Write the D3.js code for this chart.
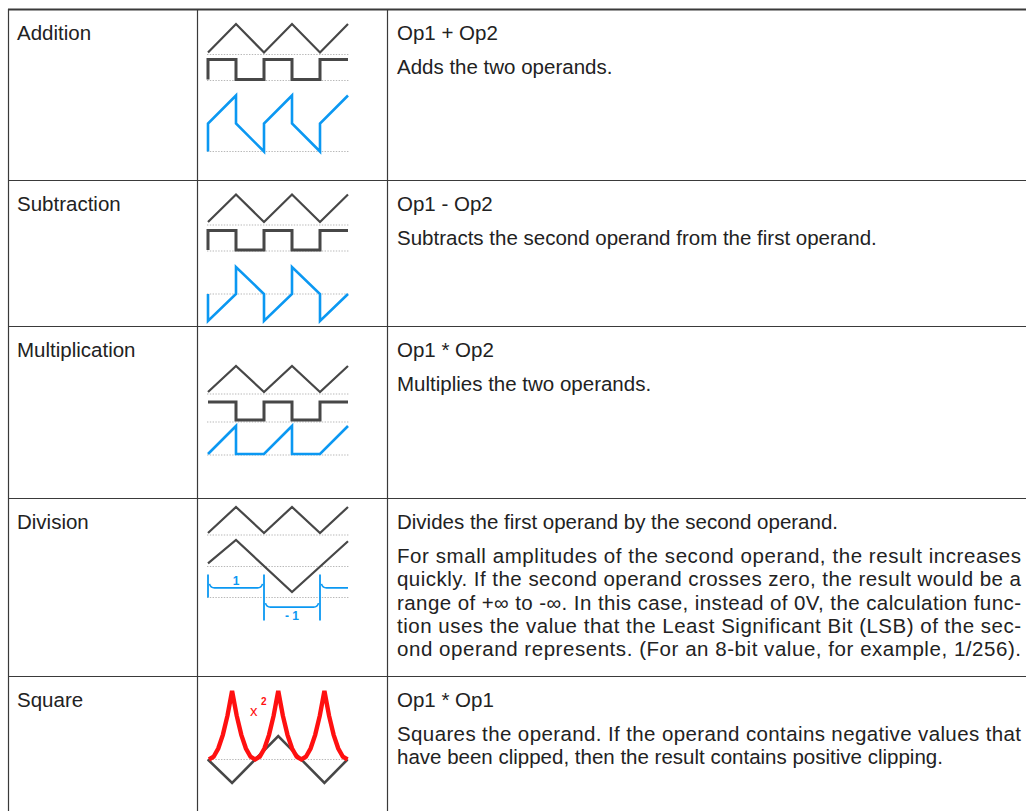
<!DOCTYPE html>
<html><head><meta charset="utf-8">
<script src="https://cdn.jsdelivr.net/npm/d3@7"></script>
<style>
body{margin:0;background:#fff}
svg{display:block}
text{font-family:"Liberation Sans",Arial,Helvetica,sans-serif}
</style></head>
<body><svg id="chart" width="1026" height="811"></svg>
<script>
// ---------- data ----------
const operations = ["Addition", "Subtraction", "Multiplication", "Division", "Square"];
const descriptions = [
  [["Op1 + Op2"], ["Adds the two operands."]],
  [["Op1 - Op2"], ["Subtracts the second operand from the first operand."]],
  [["Op1 * Op2"], ["Multiplies the two operands."]],
  [["Divides the first operand by the second operand."],
   ["For small amplitudes of the second operand, the result increases",
    "quickly. If the second operand crosses zero, the result would be a",
    "range of +\u221E to -\u221E. In this case, instead of 0V, the calculation func-",
    "tion uses the value that the Least Significant Bit (LSB) of the sec-",
    "ond operand represents. (For an 8-bit value, for example, 1/256)."]],
  [["Op1 * Op1"], ["Squares the operand. If the operand contains negative values that",
    "have been clipped, then the result contains positive clipping."]]
];
// lines that are justified to the full column width in the original
const justified = ["For small", "quickly.", "range of", "tion uses", "ond operand", "Squares the"];
// waveforms, time in half periods of Op1
const triT = [0, 1, 2, 3, 4, 5];
const triV = [0, 1, 0, 1, 0, 1];
const stepT = [0, 0, 1, 1, 2, 2, 3, 3, 4, 4, 5];
const squareV = [0, 1, 1, 0, 0, 1, 1, 0, 0, 1, 1];
const addV = [0, 1, 2, 1, 0, 1, 2, 1, 0, 1, 2];
const subV = [0, -1, 0, 1, 0, -1, 0, 1, 0, -1, 0];
const mulSqT = [0, 1, 1, 2, 2, 3, 3, 4, 4, 5];
const mulSqV = [1, 1, 0, 0, 1, 1, 0, 0, 1, 1];
const mulV = [0, 1, 0, 0, 0, 1, 0, 0, 0, 1];
const divOp2T = [0, 1, 3, 5];
const divOp2V = [0.1, 1, -1, 0.95];
const divMarkT = [0, 2, 4];
const divMarkLow = [0, -1, -1];
const divBands = [{t0: 0, t1: 2, v: 0.42, label: "1", side: -1},
                  {t0: 2, t1: 4, v: -0.42, label: "- 1", side: 1},
                  {t0: 4, t1: 5, v: 0.42, label: "", side: -1}];
// square row, time in quarter periods
const sqOpT = [-0.05, 1, 3, 5, 6];
const sqOpV = [0, -1, 1, -1, 0];
const sqResT = [0,0.2,0.4,0.6,0.8,1,1.2,1.4,1.6,1.8,2,2.2,2.4,2.6,2.8,3,3.2,3.4,3.6,3.8,4,4.2,4.4,4.6,4.8,5,5.2,5.4,5.6,5.8,6];
const sqResV = [0,.04,.16,.36,.64,1,.64,.36,.16,.04,0,.04,.16,.36,.64,1,.64,.36,.16,.04,0,.04,.16,.36,.64,1,.64,.36,.16,.04,0];

// ---------- layout ----------
const W = 1026, H = 811;
const rowTops = [9, 180, 326, 498, 676];
const colX = [8, 197, 387];
const lineColor = "#3a3a3a", textColor = "#222", waveColor = "#474747", blue = "#0b98f2", red = "#ff1010", dotColor = "#b8b8b8";
const fontSize = 20.5, textX = 397, textRight = 1021;

const svg = d3.select("#chart");
svg.append("rect").attr("width", W).attr("height", H).attr("fill", "#fff");

// grid
const grid = svg.append("g");
rowTops.forEach((y, i) => grid.append("line").attr("x1", colX[0]).attr("x2", W).attr("y1", y + 0.5).attr("y2", y + 0.5)
  .attr("stroke", lineColor).attr("stroke-width", i === 0 ? 2 : 1.2));
colX.forEach(x => grid.append("line").attr("x1", x + 0.5).attr("x2", x + 0.5).attr("y1", rowTops[0]).attr("y2", H)
  .attr("stroke", lineColor).attr("stroke-width", 1.2));

// text
const txt = svg.append("g").attr("fill", textColor).style("font-size", fontSize + "px");
operations.forEach((op, i) => {
  txt.append("text").attr("x", 17).attr("y", rowTops[i] + 31).text(op);
  let y = rowTops[i] + 31;
  descriptions[i].forEach((para, p) => {
    if (p > 0) y += 34;
    para.forEach((line, l) => {
      if (l > 0) y += 23.3;
      const t = txt.append("text").attr("x", textX).attr("y", y).text(line);
      if (justified.some(s => line.startsWith(s))) {
        const natural = t.node().getComputedTextLength();
        const target = textRight - textX;
        if (target > natural) t.attr("textLength", target).attr("lengthAdjust", "spacing");
      }
    });
  });
});

// icons
const x = d3.scaleLinear().domain([0, 5]).range([208, 348]);
const icons = svg.append("g");
function dotted(y) {
  icons.append("line").attr("x1", 207).attr("x2", 349).attr("y1", y).attr("y2", y)
    .attr("stroke", dotColor).attr("stroke-width", 1.2).attr("stroke-dasharray", "1.4,1.4");
}
function trace(T, V, xs, ys, color, w) {
  const line = d3.line().x((d, i) => xs(T[i])).y(d => ys(d));
  icons.append("path").attr("d", line(V)).attr("fill", "none").attr("stroke", color)
    .attr("stroke-width", w).attr("stroke-linejoin", "miter");
}
function yLin(base, top) { return d3.scaleLinear().domain([0, 1]).range([base, top]); }

// Addition
dotted(54.5); dotted(80.5); dotted(151.5);
trace(triT, triV, x, yLin(52.5, 24), waveColor, 2.2);
trace(stepT, squareV, x, yLin(79.5, 59.5), waveColor, 3);
trace(stepT, addV, x, yLin(151.5, 123.5), blue, 2.6);
// Subtraction
dotted(225); dotted(251); dotted(294);
trace(triT, triV, x, yLin(222, 194.5), waveColor, 2.2);
trace(stepT, squareV, x, yLin(250, 230.5), waveColor, 3);
trace(stepT, subV, x, yLin(294, 267), blue, 2.6);
// Multiplication
dotted(394); dotted(422); dotted(455);
trace(triT, triV, x, yLin(392, 366), waveColor, 2.2);
trace(mulSqT, mulSqV, x, yLin(420, 402), waveColor, 3);
trace(mulSqT, mulV, x, yLin(454, 426), blue, 2.6);
// Division
dotted(535); dotted(566.5); dotted(597.5);
trace(triT, triV, x, yLin(533, 507), waveColor, 2.2);
trace(divOp2T, divOp2V, x, yLin(566, 540), waveColor, 2.2);
const yDiv = yLin(597.5, 574.5);
divMarkT.forEach((t, i) => icons.append("line").attr("x1", x(t)).attr("x2", x(t))
  .attr("y1", yDiv(1)).attr("y2", yDiv(divMarkLow[i])).attr("stroke", blue).attr("stroke-width", 1.8));
divBands.forEach(b => {
  const x0 = x(b.t0) + 1.5, x1 = b.t1 === 5 ? x(5) : x(b.t1) - 1.5, y = yDiv(b.v);
  let d = `M${x0},${y - 4} Q${x0 + 1},${y} ${x0 + 5},${y} L${b.t1 === 5 ? x1 : x1 - 5},${y}`;
  if (b.t1 !== 5) d += ` Q${x1 - 1},${y} ${x1},${y - 4}`;
  icons.append("path").attr("d", d).attr("fill", "none").attr("stroke", blue).attr("stroke-width", 1.6);
  if (b.label) icons.append("text").attr("x", (x(b.t0) + x(b.t1)) / 2).attr("y", b.side < 0 ? y - 3 : y + 13)
    .attr("text-anchor", "middle").attr("fill", blue).style("font-size", "12px").style("font-weight", "bold").text(b.label);
});
// Square
const xq = d3.scaleLinear().domain([0, 6]).range([209, 347.5]);
dotted(759.5);
trace(sqOpT, sqOpV, xq, yLin(759.5, 736), waveColor, 2.6);
trace(sqResT, sqResV, xq, yLin(759.5, 691), red, 4.4);
icons.append("text").attr("x", 250).attr("y", 716).attr("fill", red).style("font-size", "15px").text("x");
icons.append("text").attr("x", 261).attr("y", 705).attr("fill", red).style("font-size", "10px").style("font-weight", "bold").text("2");
</script></body></html>
